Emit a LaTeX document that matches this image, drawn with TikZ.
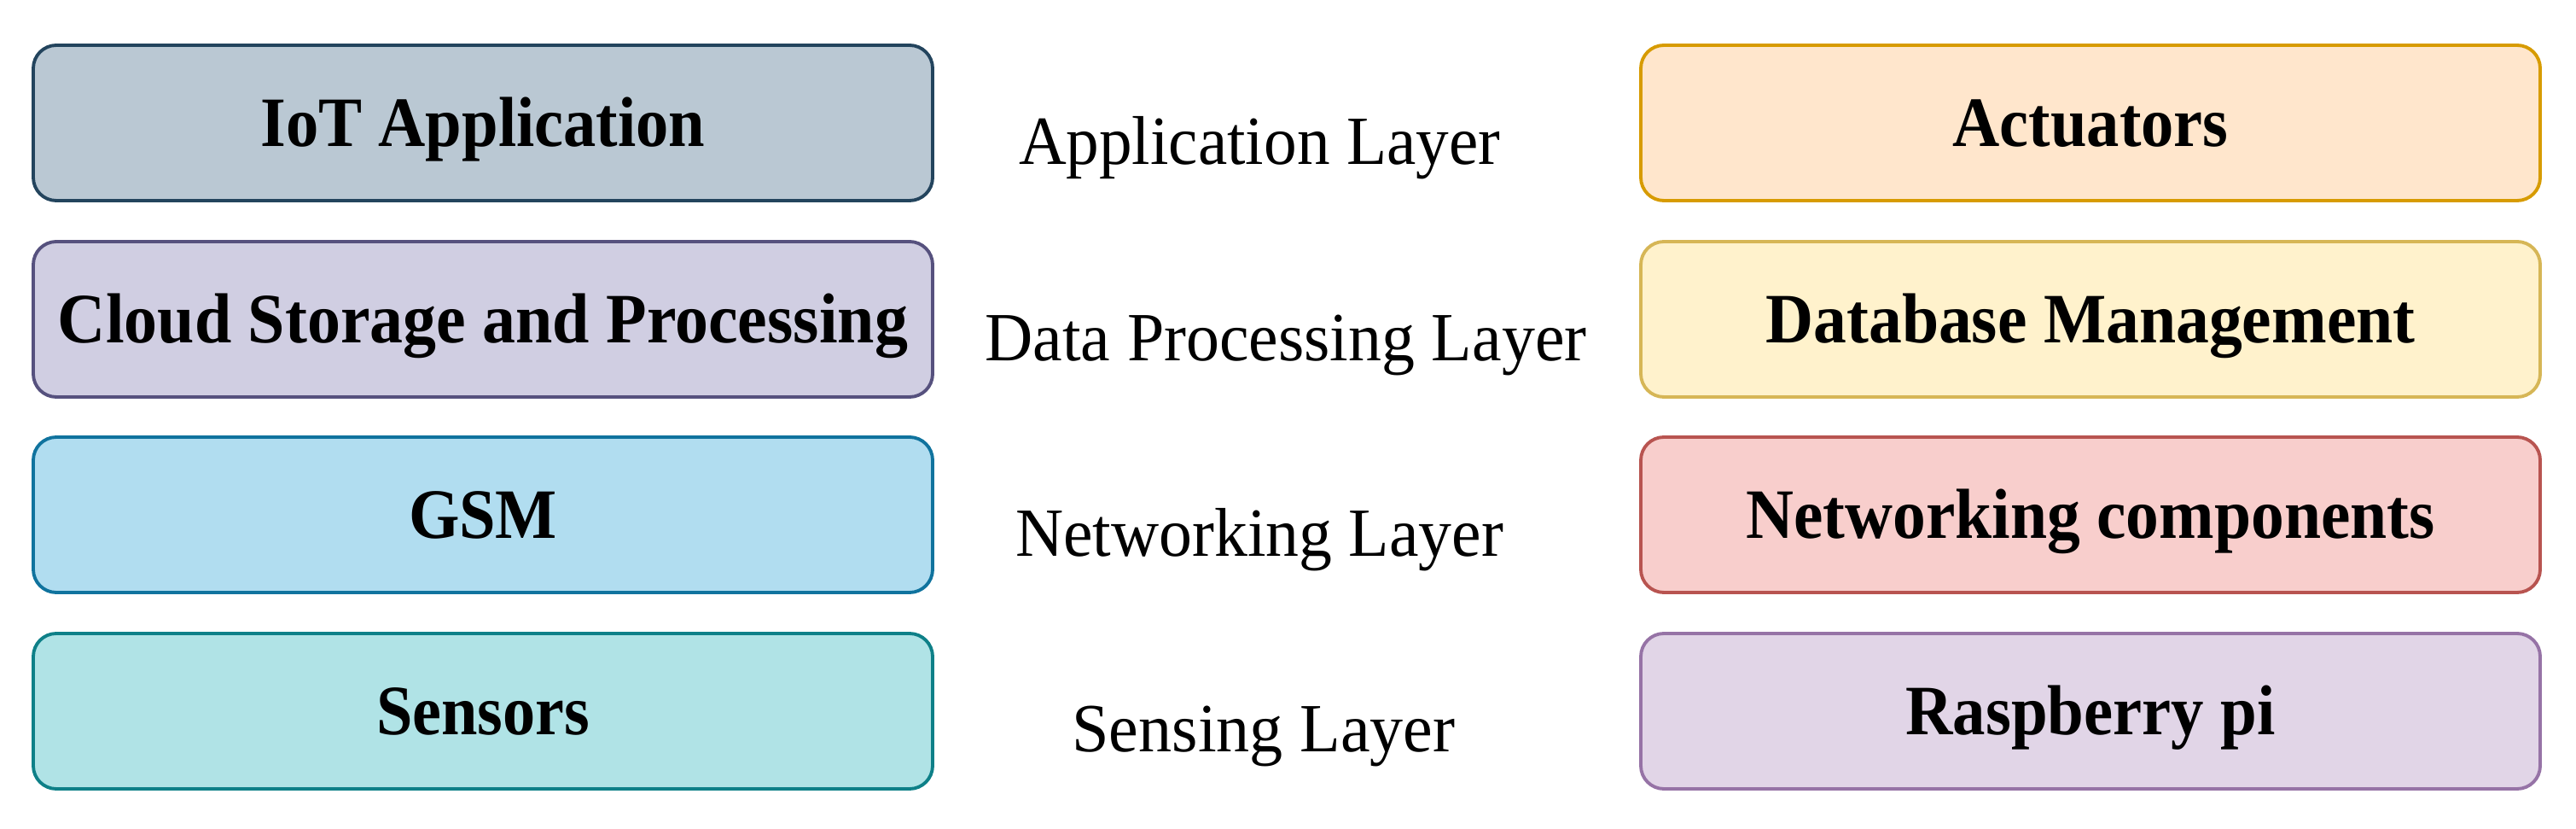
\documentclass[tikz,border=0pt]{standalone}
\usepackage{fontspec}
\setmainfont{Liberation Serif}
\usepackage{graphicx}
\definecolor{iotF}{HTML}{BAC8D3}\definecolor{iotD}{HTML}{23445D}
\definecolor{cldF}{HTML}{D0CEE2}\definecolor{cldD}{HTML}{56517E}
\definecolor{gsmF}{HTML}{B1DDF0}\definecolor{gsmD}{HTML}{10739E}
\definecolor{senF}{HTML}{B0E3E6}\definecolor{senD}{HTML}{0E8088}
\definecolor{actF}{HTML}{FFE6CC}\definecolor{actD}{HTML}{D79B00}
\definecolor{dbF}{HTML}{FFF2CC}\definecolor{dbD}{HTML}{D6B656}
\definecolor{netF}{HTML}{F8CECC}\definecolor{netD}{HTML}{B85450}
\definecolor{rpiF}{HTML}{E1D5E7}\definecolor{rpiD}{HTML}{9673A6}
\newcommand\fitw[2]{\resizebox{#1}{\height}{#2}}
\begin{document}
\begin{tikzpicture}[
  box/.style={draw, rounded corners=0.27cm, line width=1.1pt,
    minimum width=10.54cm, minimum height=1.82cm, inner sep=0pt,
    text height=0.55cm, text depth=0cm,
    font=\fontsize{23.6pt}{26pt}\selectfont\bfseries},
  layer/.style={anchor=base, inner sep=0pt,
    font=\fontsize{23pt}{26pt}\selectfont}
]
\useasboundingbox (0,0) rectangle (30.19,-9.71);
% left column
\node[box, fill=iotF, draw=iotD] (iot) at (5.66,-1.44) {\fitw{5.21cm}{IoT Application}\hspace{0.25cm}};
\node[box, fill=cldF, draw=cldD] (cloud) at (5.66,-3.74) {\fitw{9.96cm}{Cloud Storage and Processing}};
\node[box, fill=gsmF, draw=gsmD] (gsm) at (5.66,-6.03) {\fitw{1.74cm}{GSM}};
\node[box, fill=senF, draw=senD] (sens) at (5.66,-8.33) {\fitw{2.50cm}{Sensors}};
% right column
\node[box, fill=actF, draw=actD] (act) at (24.50,-1.44) {\fitw{3.23cm}{Actuators}};
\node[box, fill=dbF, draw=dbD] (db) at (24.50,-3.74) {\fitw{7.61cm}{Database Management}};
\node[box, fill=netF, draw=netD] (netc) at (24.50,-6.03) {\fitw{8.07cm}{Networking components}};
\node[box, fill=rpiF, draw=rpiD] (rpi) at (24.50,-8.33) {\fitw{4.33cm}{Raspberry pi}};
% layer labels
\node[layer] (lapp) at (14.76,-1.93) {\fitw{5.64cm}{Application Layer}};
\node[layer] (ldata) at (15.07,-4.23) {\fitw{7.05cm}{Data Processing Layer}};
\node[layer] (lnet) at (14.76,-6.52) {\fitw{5.72cm}{Networking Layer}};
\node[layer] (lsens) at (14.81,-8.81) {\fitw{4.49cm}{Sensing Layer}};
\end{tikzpicture}
\end{document}
